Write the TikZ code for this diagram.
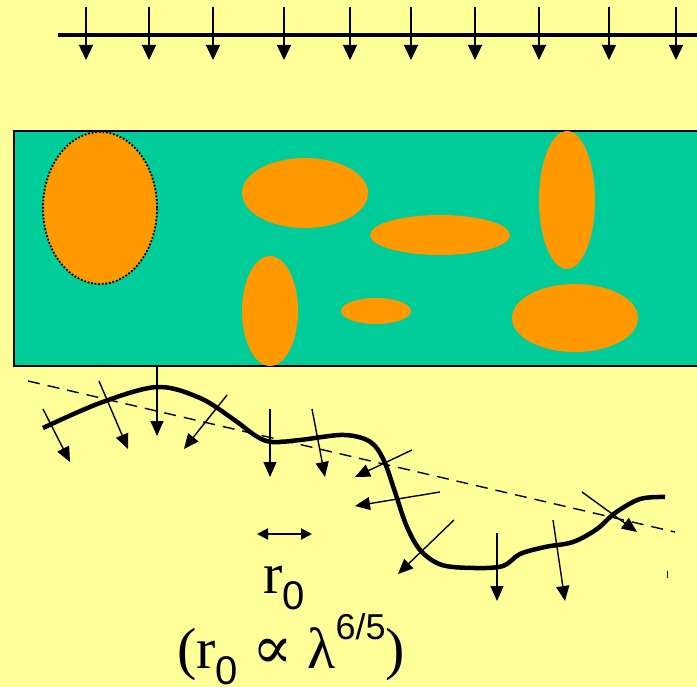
\documentclass[tikz,border=0pt]{standalone}
\usepackage{fontspec}
\setmainfont{Liberation Serif}
\newfontfamily\digitfont{Liberation Sans}
\newfontfamily\symbfont{DejaVu Serif}
\usetikzlibrary{arrows.meta}
\definecolor{bgyellow}{RGB}{255,255,153}
\definecolor{slabteal}{RGB}{0,204,153}
\definecolor{blobor}{RGB}{255,153,0}
\tikzset{
  blob/.style={fill=blobor},
  ray/.style={line width=1.4pt,-{Triangle[length=15pt,width=13pt]}},
  toparrow/.style={line width=1.4pt,-{Triangle[length=15pt,width=14pt]}},
  front/.style={line width=4.5pt,line join=round,line cap=butt},
  label/.style={font=\fontsize{58}{60}\selectfont,inner sep=0pt}
}
\begin{document}
\begin{tikzpicture}[x=1pt,y=-1pt]
\fill[bgyellow] (0,0) rectangle (697,687);
\clip (0,0) rectangle (697,687);
% incoming plane wave
\draw[line width=4pt] (58,35) -- (700,35);
\foreach \xx in {86,149,213,284,350,411,475,539,609,676}{
  \draw[toparrow] (\xx,7) -- (\xx,60);
}
% turbulent layer
\draw[fill=slabteal,line width=1.6pt] (14,131) rectangle (720,366);
\fill[blob] (100,208) ellipse [x radius=57pt, y radius=76pt];
\draw[line width=1.8pt,dash pattern=on 1.8pt off 1.8pt] (100,208) ellipse [x radius=57pt, y radius=76pt];
\fill[blob] (305,193) ellipse [x radius=63pt, y radius=35pt];
\fill[blob] (440,235) ellipse [x radius=70pt, y radius=20pt];
\fill[blob] (567,200) ellipse [x radius=28pt, y radius=69pt];
\fill[blob] (270,311) ellipse [x radius=28pt, y radius=55pt];
\fill[blob] (376,311) ellipse [x radius=35pt, y radius=13pt];
\fill[blob] (575,318) ellipse [x radius=63pt, y radius=34pt];
% mean wavefront (dashed)
\coordinate (d1) at (28,381);
\coordinate (d2) at (675,532);
\draw[line width=1.4pt,dash pattern=on 12pt off 8pt] (d1) -- (d2);
% distorted wavefront
\draw[front] plot[smooth,tension=0.55] coordinates {
 (43,428) (100,403) (157,387) (200,398) (233,419) (256,436) (272,442)
 (300,440) (340,435) (362,438) (375,446) (385,463) (395,492) (407,527)
 (421,551) (442,565) (475,568) (503,566) (520,554) (545,547) (573,542)
 (597,529) (615,513) (640,499) (665,497)};
% local propagation directions
\coordinate (s1) at (43,409);  \coordinate (e1) at (70,462);
\coordinate (s2) at (99,381);  \coordinate (e2) at (128,449);
\coordinate (s3) at (157,366); \coordinate (e3) at (157,436);
\coordinate (s4) at (227,395); \coordinate (e4) at (184,449);
\coordinate (s5) at (270,409); \coordinate (e5) at (270,477);
\coordinate (s6) at (312,409); \coordinate (e6) at (325,477);
\coordinate (s7) at (412,450); \coordinate (e7) at (355,477);
\coordinate (s8) at (440,492); \coordinate (e8) at (355,506);
\coordinate (s9) at (454,520); \coordinate (e9) at (398,574);
\coordinate (s10) at (497,533); \coordinate (e10) at (497,601);
\coordinate (s11) at (553,520); \coordinate (e11) at (565,601);
\coordinate (s12) at (582,492); \coordinate (e12) at (637,532);
\foreach \i in {1,...,12}{ \draw[ray] (s\i) -- (e\i); }
\coordinate (t1) at (667,571); \coordinate (t2) at (667,578);
\draw[line width=1pt] (t1) -- (t2);
% coherence length
\coordinate (r1) at (257,534); \coordinate (r2) at (312,534);
\draw[line width=2pt,{Triangle[length=11pt,width=11pt]}-{Triangle[length=11pt,width=11pt]}] (r1) -- (r2);
\node[label,anchor=base] (rz) at (284,593) {r\raisebox{-0.28em}{\fontsize{40}{40}\selectfont\digitfont 0}};
\node[label,anchor=base] (rel) at (291,668) {(r\raisebox{-0.28em}{\fontsize{40}{40}\selectfont\digitfont 0} {\fontsize{60}{60}\selectfont\symbfont ∝} λ\raisebox{0.5em}{\fontsize{36}{36}\selectfont\digitfont 6/5})};
\end{tikzpicture}
\end{document}
